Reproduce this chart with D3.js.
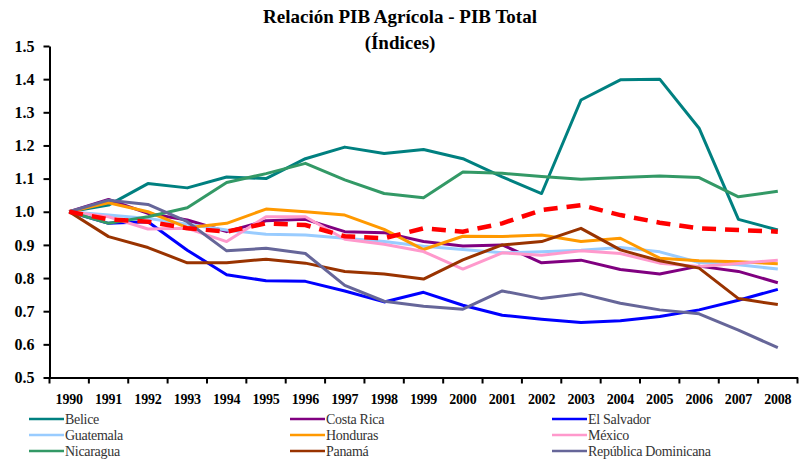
<!DOCTYPE html>
<html>
<head>
<meta charset="utf-8">
<script src="https://cdn.jsdelivr.net/npm/d3@7"></script>
<style>
  body { margin: 0; background: #fff; }
</style>
</head>
<body>
<div id="chart"></div>
<script>
// Years (categories)
var years = ["1990","1991","1992","1993","1994","1995","1996","1997","1998","1999",
             "2000","2001","2002","2003","2004","2005","2006","2007","2008"];

var yTicks = [0.5, 0.6, 0.7, 0.8, 0.9, 1.0, 1.1, 1.2, 1.3, 1.4, 1.5];

// Series values
var belice     = [1.00,1.02,1.085,1.072,1.105,1.10,1.16,1.195,1.176,1.188,1.16,1.105,1.055,1.337,1.398,1.40,1.252,0.977,0.945];
var costaRica  = [1.00,1.037,0.995,0.975,0.94,0.973,0.977,0.94,0.937,0.91,0.897,0.90,0.846,0.854,0.826,0.812,0.836,0.82,0.786];
var elSalvador = [1.00,0.965,0.97,0.884,0.81,0.792,0.79,0.761,0.728,0.757,0.718,0.688,0.676,0.666,0.671,0.684,0.704,0.733,0.766];
var guatemala  = [1.00,0.99,0.98,0.962,0.945,0.932,0.93,0.92,0.91,0.896,0.886,0.876,0.879,0.884,0.892,0.879,0.847,0.84,0.827];
var honduras   = [1.00,1.027,1.00,0.952,0.965,1.008,1.00,0.99,0.947,0.886,0.926,0.925,0.93,0.91,0.92,0.86,0.852,0.849,0.843];
var mexico     = [1.00,0.985,0.948,0.95,0.91,0.985,0.985,0.917,0.902,0.88,0.827,0.876,0.869,0.882,0.874,0.845,0.835,0.844,0.854];
var nicaragua  = [1.00,0.965,0.985,1.012,1.088,1.115,1.146,1.096,1.055,1.042,1.12,1.116,1.106,1.098,1.103,1.108,1.103,1.045,1.062];
var panama     = [1.00,0.925,0.892,0.846,0.846,0.857,0.845,0.82,0.812,0.797,0.855,0.90,0.91,0.95,0.885,0.852,0.83,0.738,0.72];
var repDom     = [1.00,1.035,1.022,0.97,0.882,0.89,0.874,0.778,0.73,0.715,0.706,0.761,0.738,0.753,0.724,0.704,0.692,0.643,0.59];
var total      = [1.00,0.977,0.97,0.95,0.94,0.965,0.96,0.926,0.92,0.95,0.94,0.965,1.005,1.02,0.99,0.967,0.95,0.945,0.94];

var seriesNames = ["Belice","Costa Rica","El Salvador","Guatemala","Honduras","México",
                   "Nicaragua","Panamá","República Dominicana"];
var seriesValues = [belice, costaRica, elSalvador, guatemala, honduras, mexico, nicaragua, panama, repDom];
var seriesColors = ["#008080","#800080","#0000FF","#99CCFF","#FF9900","#FF99CC",
                    "#339966","#993300","#666699"];

var serif = "'Liberation Serif'";

var svgWidth = 799;
var svgHeight = 465;

var svg = d3.select("#chart")
    .append("svg")
    .attr("width", svgWidth)
    .attr("height", svgHeight);

// Scales
var xScale = d3.scaleBand()
    .domain(years)
    .range([49.5, 797.5])
    .padding(0);

var yScale = d3.scaleLinear()
    .domain([0.5, 1.5])
    .range([377.5, 46]);

var xMid = d => xScale(d) + xScale.bandwidth() / 2;

// Title
svg.append("text")
    .attr("x", 400)
    .attr("y", 23)
    .attr("text-anchor", "middle")
    .style("font-family", serif)
    .attr("font-size", 19)
    .attr("font-weight", "bold")
    .text("Relación PIB Agrícola - PIB Total");

svg.append("text")
    .attr("x", 400)
    .attr("y", 49)
    .attr("text-anchor", "middle")
    .style("font-family", serif)
    .attr("font-size", 19)
    .attr("font-weight", "bold")
    .text("(Índices)");

// Y axis
var leftAxis = d3.axisLeft(yScale)
    .tickValues(yTicks)
    .tickFormat(d3.format(".1f"))
    .tickSize(6)
    .tickSizeOuter(0)
    .tickPadding(9);

var yAxis = svg.append("g")
    .attr("transform", "translate(49.5, 0)")
    .call(leftAxis);

yAxis.selectAll("text")
    .style("font-family", serif)
    .attr("font-size", 16)
    .attr("font-weight", "bold")
    .attr("fill", "#000");
yAxis.selectAll("line, path").attr("stroke", "#000").attr("stroke-width", 2);

// X axis (labels centred in each band, ticks on band edges)
var bottomAxis = d3.axisBottom(xScale)
    .tickSize(0)
    .tickPadding(17);

var xAxis = svg.append("g")
    .attr("transform", "translate(0, 377.5)")
    .call(bottomAxis);

xAxis.select("path").attr("stroke", "#000").attr("stroke-width", 2);
xAxis.selectAll("text")
    .style("font-family", serif)
    .attr("font-size", 14)
    .attr("font-weight", "bold")
    .attr("fill", "#000")
    .attr("letter-spacing", -0.2);

var edges = years.map(d => xScale(d)).concat([xScale.range()[1]]);
xAxis.selectAll(".edge")
    .data(edges)
    .enter()
    .append("line")
    .attr("class", "edge")
    .attr("x1", d => d)
    .attr("x2", d => d)
    .attr("y1", 0)
    .attr("y2", 6)
    .attr("stroke", "#000")
    .attr("stroke-width", 2);

// Lines
var line = d3.line()
    .x((d, i) => xMid(years[i]))
    .y(d => yScale(d));

svg.append("g")
    .selectAll("path")
    .data(seriesValues)
    .enter()
    .append("path")
    .attr("d", d => line(d))
    .attr("fill", "none")
    .attr("stroke", (d, i) => seriesColors[i])
    .attr("stroke-width", 3)
    .attr("stroke-linejoin", "round");

svg.append("path")
    .attr("d", line(total))
    .attr("fill", "none")
    .attr("stroke", "#FF0000")
    .attr("stroke-width", 4.5)
    .attr("stroke-dasharray", "14,9");

// Legend
var legendCols = [29, 290, 552];
var legendRows = [419, 435, 451];

var legend = svg.append("g")
    .selectAll("g")
    .data(seriesNames)
    .enter()
    .append("g")
    .attr("transform", (d, i) => `translate(${legendCols[i % 3]}, ${legendRows[Math.floor(i / 3)]})`);

legend.append("line")
    .attr("x1", 0)
    .attr("x2", 35)
    .attr("y1", 0)
    .attr("y2", 0)
    .attr("stroke", (d, i) => seriesColors[i])
    .attr("stroke-width", 2.5);

legend.append("text")
    .attr("x", 36)
    .attr("y", 4.5)
    .style("font-family", serif)
    .attr("font-size", 14)
    .attr("fill", "#333")
    .attr("letter-spacing", -0.3)
    .text(d => d);
</script>
</body>
</html>
